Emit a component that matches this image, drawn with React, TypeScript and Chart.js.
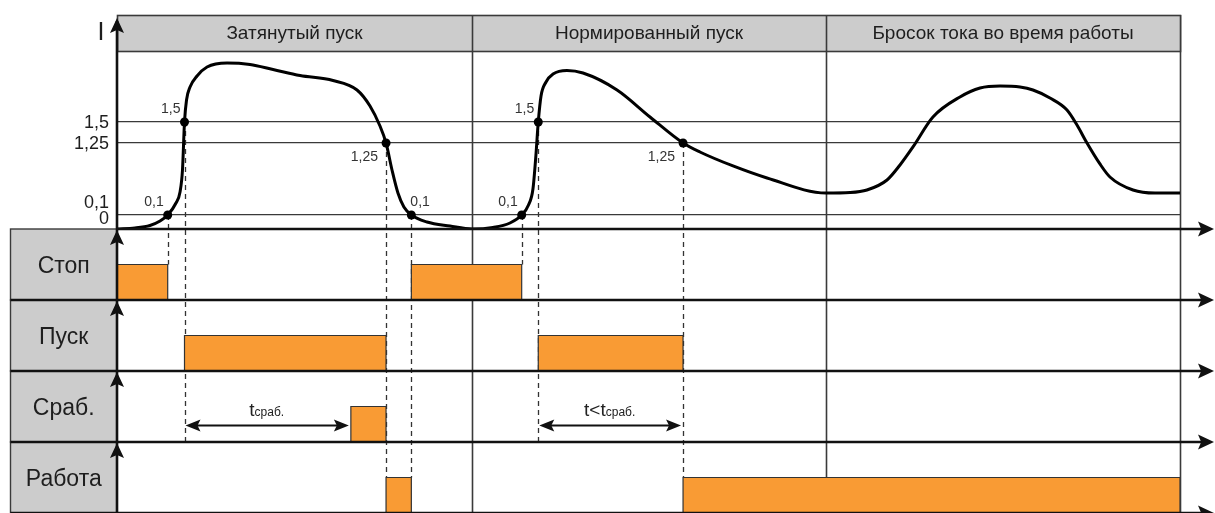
import React, { useEffect, useRef } from "react";
import { Chart, registerables, LinearScale } from "chart.js";

Chart.register(...registerables);

// ---------------- data ----------------
const SECTION_BOUNDS = [0, 33.4, 66.7, 100];
const SECTION_TITLES = ["Затянутый пуск", "Нормированный пуск", "Бросок тока во время работы"];

const I_LEVELS = [0, 0.1, 1.25, 1.5];
const I_LEVEL_LABELS = ["0", "0,1", "1,25", "1,5"];

const CURVE_T = [
  0, 1.69, 3.1, 4.05, 4.77, 5.55, 5.93, 6.16, 6.35, 6.54, 6.87, 7.53, 8.47, 10.35, 12.51, 14.68,
  17.22, 20.32, 22.58, 23.8, 24.74, 25.31, 25.87, 26.43, 26.99, 27.69, 29.16, 31.33, 33.4, 35.37,
  36.97, 38.07, 38.71, 39.13, 39.41, 39.63, 39.89, 40.36, 41.02, 42.33, 43.84, 47.04, 50.14, 53.25,
  54.84, 57.95, 61.15, 66.7, 68.96, 70.55, 72.44, 73.66, 74.88, 76.76, 79.3, 81.19, 83.07,
  84.95, 86.17, 87.77, 89.37, 90.31, 91.25, 92.47, 93.41, 95.58, 97.65, 100,
];
const CURVE_I = [
  0, 0.007, 0.025, 0.057, 0.1, 0.292, 0.467, 0.819, 1.5, 1.767, 1.925, 2.059, 2.168, 2.217, 2.199, 2.138,
  2.065, 2.004, 1.889, 1.694, 1.452, 1.25, 0.819, 0.451, 0.228, 0.1, 0.05, 0.021, 0, 0.011,
  0.043, 0.1, 0.26, 0.515, 1.058, 1.5, 1.816, 1.986, 2.083, 2.126, 2.095, 1.889, 1.561, 1.25,
  1.106, 0.883, 0.691, 0.451, 0.459, 0.499, 0.659, 0.899, 1.187, 1.561, 1.804, 1.913, 1.937,
  1.925, 1.889, 1.792, 1.646, 1.464, 1.25, 0.915, 0.707, 0.499, 0.451, 0.451,
];

const EVENT_T = [4.77, 6.35, 25.31, 27.69, 38.07, 39.63, 53.25];
const EVENT_I = [0.1, 1.5, 1.25, 0.1, 0.1, 1.5, 1.25];
const EVENT_LABELS = ["0,1", "1,5", "1,25", "0,1", "0,1", "1,5", "1,25"];
// row index and row level each dashed guide drops down to
const EVENT_DROP_ROW = [0, 2, 3, 3, 0, 2, 3];
const EVENT_DROP_LEVEL = [1, 0, 1, 1, 1, 0, 1];

const ROW_NAMES = ["Стоп", "Пуск", "Сраб.", "Работа"];
const STOP_ON = [[0, 4.77], [27.69, 38.07]];
const PUSK_ON = [[6.35, 25.31], [39.63, 53.25]];
const SRAB_ON = [[22.0, 25.31]];
const RABOTA_ON = [[25.31, 27.69], [53.25, 100]];

const SPAN_FROM = [6.35, 39.63];
const SPAN_TO = [22.0, 53.25];
const SPAN_MAIN = ["t", "t<t"];
const SPAN_SUB = ["сраб.", "сраб."];

// ---------------- schematic (piecewise) current scale ----------------
const AXIS_BREAKS = [0, 0.1, 1.25, 1.5, 2.8];
const AXIS_FRACS = [0, 0.0654, 0.4019, 0.5, 1];

function valueToFrac(v: number) {
  const b = AXIS_BREAKS, f = AXIS_FRACS;
  if (v <= b[0]) return f[0] + (v - b[0]) * (f[1] - f[0]) / (b[1] - b[0]);
  for (let i = 1; i < b.length; i++) {
    if (v <= b[i]) return f[i - 1] + (v - b[i - 1]) * (f[i] - f[i - 1]) / (b[i] - b[i - 1]);
  }
  const n = b.length - 1;
  return f[n] + (v - b[n]) * (f[n] - f[n - 1]) / (b[n] - b[n - 1]);
}
function fracToValue(fr: number) {
  const b = AXIS_BREAKS, f = AXIS_FRACS;
  for (let i = 1; i < f.length; i++) {
    if (fr <= f[i]) return b[i - 1] + (fr - f[i - 1]) * (b[i] - b[i - 1]) / (f[i] - f[i - 1]);
  }
  const n = f.length - 1;
  return b[n] + (fr - f[n]) * (b[n] - b[n - 1]) / (f[n] - f[n - 1]);
}

class SchematicScale extends LinearScale {
  static id = "schematic";
  static defaults = LinearScale.defaults;
  getPixelForValue(value: any) {
    if (value === null || value === undefined || isNaN(value)) return NaN;
    return this.getPixelForDecimal(valueToFrac(+value));
  }
  getValueForPixel(pixel: number) {
    return fracToValue(this.getDecimalForPixel(pixel));
  }
}
Chart.register(SchematicScale as any);

// ---------------- helpers ----------------
const FONT = '"Liberation Sans", Arial, Helvetica, sans-serif';
const ORANGE = "#f99b34";
const GRAY_BOX = "#cccccc";
const LINE_DARK = "#3a3a3a";

function pulses(intervals: number[][]) {
  const pts: { x: number; y: number }[] = [];
  intervals.forEach(([a, b]) => {
    pts.push({ x: a, y: 0 }, { x: a, y: 1 }, { x: b, y: 1 }, { x: b, y: 0 });
  });
  return pts;
}

function arrowHead(ctx: CanvasRenderingContext2D, x: number, y: number, dir: string, len: number, half: number) {
  ctx.beginPath();
  if (dir === "right") {
    ctx.moveTo(x, y); ctx.lineTo(x - len, y - half); ctx.lineTo(x - len * 0.8, y); ctx.lineTo(x - len, y + half);
  } else if (dir === "left") {
    ctx.moveTo(x, y); ctx.lineTo(x + len, y - half); ctx.lineTo(x + len * 0.8, y); ctx.lineTo(x + len, y + half);
  } else {
    ctx.moveTo(x, y); ctx.lineTo(x - half, y + len); ctx.lineTo(x, y + len * 0.8); ctx.lineTo(x + half, y + len);
  }
  ctx.closePath();
  ctx.fill();
}

const diagramPlugin = {
  id: "diagram",
  beforeDatasetsDraw(chart: any) {
    const ctx: CanvasRenderingContext2D = chart.ctx;
    const { x: xs, yI } = chart.scales;
    const rows = [chart.scales.r1, chart.scales.r2, chart.scales.r3, chart.scales.r4];
    const area = chart.chartArea;
    ctx.save();
    // section dividers and right border
    ctx.strokeStyle = LINE_DARK;
    ctx.lineWidth = 1.6;
    SECTION_BOUNDS.slice(1).forEach((b) => {
      const px = Math.round(xs.getPixelForValue(b)) + 0.5;
      ctx.beginPath();
      ctx.moveTo(px, area.top);
      ctx.lineTo(px, area.bottom);
      ctx.stroke();
    });
    // dashed guides
    ctx.setLineDash([5, 4]);
    ctx.lineWidth = 1.3;
    ctx.strokeStyle = "#333";
    EVENT_T.forEach((t, i) => {
      const px = Math.round(xs.getPixelForValue(t)) + 0.5;
      const y0 = yI.getPixelForValue(EVENT_I[i]);
      const y1 = rows[EVENT_DROP_ROW[i]].getPixelForValue(EVENT_DROP_LEVEL[i]);
      ctx.beginPath();
      ctx.moveTo(px, y0);
      ctx.lineTo(px, y1);
      ctx.stroke();
    });
    ctx.restore();
  },
  afterDatasetsDraw(chart: any) {
    const ctx: CanvasRenderingContext2D = chart.ctx;
    const { x: xs, yI } = chart.scales;
    const rows = [chart.scales.r1, chart.scales.r2, chart.scales.r3, chart.scales.r4];
    const area = chart.chartArea;
    const left = area.left;
    const right = area.right;
    ctx.save();

    // header
    const hTop = area.top;
    const hH = 36;
    ctx.fillStyle = GRAY_BOX;
    ctx.fillRect(left, hTop, right - left, hH);
    ctx.strokeStyle = LINE_DARK;
    ctx.lineWidth = 1.6;
    ctx.strokeRect(left + 0.5, hTop + 0.5, right - left, hH);
    SECTION_BOUNDS.slice(1, -1).forEach((b) => {
      const px = Math.round(xs.getPixelForValue(b)) + 0.5;
      ctx.beginPath();
      ctx.moveTo(px, hTop);
      ctx.lineTo(px, hTop + hH);
      ctx.stroke();
    });
    ctx.fillStyle = "#1e1e1e";
    ctx.font = `19px ${FONT}`;
    ctx.textAlign = "center";
    ctx.textBaseline = "middle";
    SECTION_TITLES.forEach((title, i) => {
      const cx = (xs.getPixelForValue(SECTION_BOUNDS[i]) + xs.getPixelForValue(SECTION_BOUNDS[i + 1])) / 2;
      ctx.fillText(title, cx, hTop + hH / 2 + 1);
    });

    // row label boxes
    const boxLeft = 10.5;
    rows.forEach((s: any, i: number) => {
      ctx.fillStyle = GRAY_BOX;
      ctx.fillRect(boxLeft, s.top, left - boxLeft, s.bottom - s.top);
      ctx.strokeStyle = LINE_DARK;
      ctx.lineWidth = 1.4;
      ctx.strokeRect(boxLeft, s.top, left - boxLeft, s.bottom - s.top);
      ctx.fillStyle = "#1e1e1e";
      ctx.font = `23px ${FONT}`;
      ctx.textAlign = "center";
      ctx.textBaseline = "middle";
      ctx.fillText(ROW_NAMES[i], (boxLeft + left) / 2, (s.top + s.bottom) / 2 + 2);
    });

    // horizontal time axes with arrows
    ctx.strokeStyle = "#111";
    ctx.fillStyle = "#111";
    ctx.lineWidth = 2.6;
    const tip = right + 34;
    const baseLines = [yI.getPixelForValue(0), ...rows.map((s: any) => s.getPixelForValue(0))];
    baseLines.forEach((y: number, i: number) => {
      ctx.beginPath();
      ctx.moveTo(i === 0 ? left : boxLeft, y);
      ctx.lineTo(tip - 8, y);
      ctx.stroke();
      arrowHead(ctx, tip, y, "right", 16, 7.5);
    });

    // vertical axis with up arrows
    ctx.beginPath();
    ctx.moveTo(left, hTop + 6);
    ctx.lineTo(left, area.bottom);
    ctx.stroke();
    arrowHead(ctx, left, hTop + 3, "up", 15, 7);
    rows.forEach((s: any) => arrowHead(ctx, left, s.top + 1, "up", 15, 7));

    // "I" label
    ctx.fillStyle = "#1e1e1e";
    ctx.font = `25px ${FONT}`;
    ctx.textAlign = "center";
    ctx.textBaseline = "middle";
    ctx.fillText("I", left - 16, hTop + 18);

    // current level tick labels
    const tickDy = [-11, -13, 0, 0];
    ctx.font = `18px ${FONT}`;
    ctx.textAlign = "right";
    I_LEVELS.forEach((v, i) => {
      ctx.fillText(I_LEVEL_LABELS[i], left - 8, yI.getPixelForValue(v) + tickDy[i] + 1);
    });

    // dot labels
    const dotOff = [[-4, -13, "right"], [-4, -13, "right"], [-8, 14, "right"], [-1, -13, "left"], [-4, -13, "right"], [-4, -13, "right"], [-8, 14, "right"]];
    ctx.font = `14px ${FONT}`;
    ctx.fillStyle = "#333";
    EVENT_T.forEach((t, i) => {
      const px = xs.getPixelForValue(t);
      const py = yI.getPixelForValue(EVENT_I[i]);
      const o = dotOff[i];
      ctx.textAlign = o[2] as CanvasTextAlign;
      ctx.fillText(EVENT_LABELS[i], px + (o[0] as number), py + (o[1] as number));
    });

    // time spans in "Сраб." row
    const r3 = rows[2];
    const ay = Math.round(r3.getPixelForValue(0.48)) + 0.5;
    SPAN_FROM.forEach((from, i) => {
      const x0 = xs.getPixelForValue(from);
      const x1 = xs.getPixelForValue(SPAN_TO[i]) - 2;
      ctx.strokeStyle = "#111";
      ctx.fillStyle = "#111";
      ctx.lineWidth = 2;
      ctx.beginPath();
      ctx.moveTo(x0 + 8, ay);
      ctx.lineTo(x1 - 8, ay);
      ctx.stroke();
      arrowHead(ctx, x0 + 1, ay, "left", 15, 6);
      arrowHead(ctx, x1, ay, "right", 15, 6);
      // label
      ctx.fillStyle = "#222";
      ctx.textBaseline = "alphabetic";
      ctx.textAlign = "left";
      ctx.font = `19px ${FONT}`;
      const wMain = ctx.measureText(SPAN_MAIN[i]).width;
      ctx.font = `12px ${FONT}`;
      const wSub = ctx.measureText(SPAN_SUB[i]).width;
      const cx = (x0 + x1) / 2;
      const sx = cx - (wMain + wSub) / 2;
      const by = ay - 10;
      ctx.font = `19px ${FONT}`;
      ctx.fillText(SPAN_MAIN[i], sx, by);
      ctx.font = `12px ${FONT}`;
      ctx.fillText(SPAN_SUB[i], sx + wMain, by);
    });

    ctx.restore();
  },
};

export default function App() {
  const canvasRef = useRef<HTMLCanvasElement | null>(null);

  useEffect(() => {
    document.body.style.margin = "0";
    const canvas = canvasRef.current;
    if (!canvas) return;

    const rowScale = (weight: number) => ({
      type: "linear",
      position: "left",
      stack: "rows",
      stackWeight: 71,
      weight,
      min: 0,
      max: 2,
      ticks: { display: false },
      grid: { display: false },
      border: { display: false },
      afterFit: (s: any) => { s.width = 117; },
    });

    const signal = (intervals: number[][], axis: string) => ({
      type: "line",
      data: pulses(intervals),
      xAxisID: "x",
      yAxisID: axis,
      borderColor: "#333",
      borderWidth: 1.2,
      backgroundColor: ORANGE,
      fill: "origin",
      pointRadius: 0,
      tension: 0,
    });

    const chart = new Chart(canvas, {
      type: "line",
      data: {
        datasets: [
          {
            type: "line",
            data: EVENT_T.map((t, i) => ({ x: t, y: EVENT_I[i] })),
            xAxisID: "x",
            yAxisID: "yI",
            showLine: false,
            pointRadius: 4.5,
            pointBackgroundColor: "#000",
            pointBorderColor: "#000",
            pointBorderWidth: 0,
          },
          {
            type: "line",
            data: CURVE_T.map((t, i) => ({ x: t, y: CURVE_I[i] })),
            xAxisID: "x",
            yAxisID: "yI",
            borderColor: "#000",
            borderWidth: 3,
            pointRadius: 0,
            fill: false,
            cubicInterpolationMode: "monotone",
            borderJoinStyle: "round",
            borderCapStyle: "round",
          },
          signal(STOP_ON, "r1"),
          signal(PUSK_ON, "r2"),
          signal(SRAB_ON, "r3"),
          signal(RABOTA_ON, "r4"),
        ] as any,
      },
      options: {
        animation: false,
        responsive: false,
        devicePixelRatio: 1,
        events: [],
        layout: { autoPadding: false, padding: { top: 15, right: 35, bottom: 0, left: 0 } },
        plugins: { legend: { display: false }, tooltip: { enabled: false } },
        scales: {
          x: { type: "linear", min: 0, max: 100, display: false },
          yI: {
            type: "schematic",
            position: "left",
            stack: "rows",
            stackWeight: 214,
            weight: 5,
            min: 0,
            max: 2.8,
            afterBuildTicks: (s: any) => { s.ticks = I_LEVELS.map((v) => ({ value: v })); },
            ticks: { display: false },
            grid: { color: LINE_DARK, lineWidth: 1.2, drawTicks: false },
            border: { display: false },
            afterFit: (s: any) => { s.width = 117; },
          },
          r1: rowScale(4),
          r2: rowScale(3),
          r3: rowScale(2),
          r4: rowScale(1),
        } as any,
      },
      plugins: [diagramPlugin as any],
    });

    return () => chart.destroy();
  }, []);

  return (
    <div style={{ width: 1215, height: 513 }}>
      <canvas ref={canvasRef} width={1215} height={513} style={{ display: "block" }} />
    </div>
  );
}
